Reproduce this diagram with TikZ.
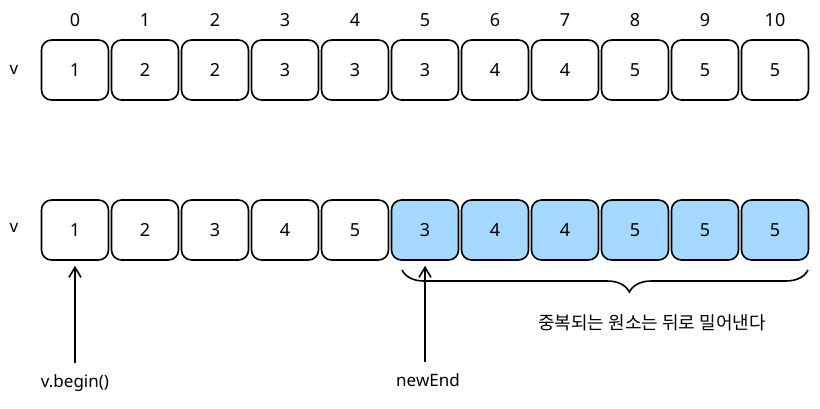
\documentclass[tikz,border=0pt]{standalone}
\usepackage{fontspec}
\setmainfont{Noto Sans}
\newfontfamily\korfont{Noto Sans CJK KR}
\usetikzlibrary{arrows.meta,decorations.pathreplacing}
\definecolor{dupblue}{HTML}{A5D8FF}

\begin{document}
\begin{tikzpicture}[x=1pt, y=-1pt,
    cell/.style={draw, line width=1.6pt, rounded corners=10pt, minimum width=67pt, minimum height=60pt, font=\fontsize{18}{20}\selectfont},
    dupcell/.style={cell, fill=dupblue},
    idx/.style={font=\fontsize{18}{20}\selectfont},
    lbl/.style={font=\fontsize{17}{20}\selectfont},
    iter/.style={line width=1.6pt, -{Straight Barb[length=10pt,width=12pt]}, shorten >=5pt, shorten <=8pt}]
    \useasboundingbox (0,0) rectangle (820,408);
    % top row
    \node[lbl] (vtop) at (14,70) {v};
    \foreach \v [count=\i from 0] in {1,2,2,3,3,3,4,4,5,5,5} {
        \node[idx] (i\i) at (75+70*\i,20) {\i};
        \node[cell] (a\i) at (75+70*\i,70) {\v};
    }
    % bottom row
    \node[lbl] (vbot) at (14,228) {v};
    \foreach \v [count=\i from 0] in {1,2,3,4,5} {
        \node[cell] (b\i) at (75+70*\i,230) {\v};
    }
    \foreach \v [count=\i from 5] in {3,4,4,5,5,5} {
        \node[dupcell] (b\i) at (75+70*\i,230) {\v};
    }
    % iterators
    \node[lbl] (beginlbl) at (75,383) {v.begin()};
    \node[lbl] (endlbl) at (428,380) {newEnd};
    \draw[iter] (beginlbl.north) -- (b0.south);
    \draw[iter] (endlbl.north -| b5.south) -- (b5.south);
    % brace
    \coordinate (bl) at (402,270);
    \coordinate (br) at (808,270);
    \draw[line width=1.6pt, decorate, decoration={brace, mirror, amplitude=22pt, aspect=0.56}] (bl) -- (br);
    \node[font=\korfont\fontsize{18}{20}\selectfont] (note) at (652,323) {중복되는 원소는 뒤로 밀어낸다};
\end{tikzpicture}
\end{document}
